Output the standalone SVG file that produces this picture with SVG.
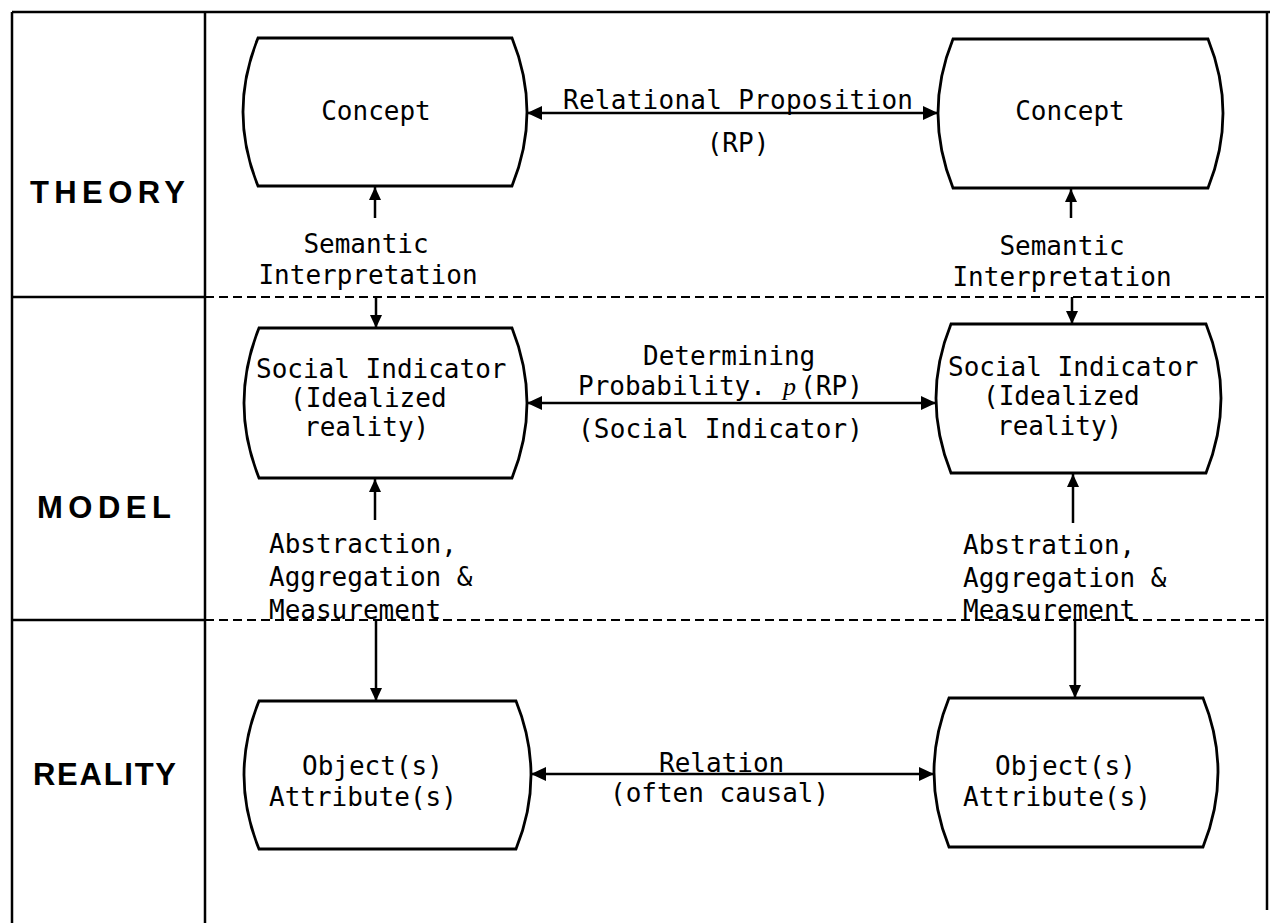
<svg xmlns="http://www.w3.org/2000/svg" width="1270" height="923" viewBox="0 0 1270 923">
<style>
.t{font-family:"DejaVu Sans Mono","Liberation Mono",monospace;font-size:26px;fill:#000}
.m{text-anchor:middle}
.lbl{font-family:"Liberation Sans",Arial,sans-serif;font-weight:bold;font-size:31px;fill:#000}
.frame{stroke:#000;stroke-width:2.5;fill:none}
.dash{stroke:#000;stroke-width:2;stroke-dasharray:9 5;fill:none}
.node{stroke:#000;stroke-width:2.8;fill:#fff}
.conn{stroke:#000;stroke-width:2.5;fill:none}
</style>
<defs>
<marker id="ah" markerUnits="userSpaceOnUse" markerWidth="16" markerHeight="14" refX="15" refY="7" orient="auto-start-reverse">
<path d="M0,0 L15,7 L0,14 z" fill="#000"/>
</marker>
<marker id="av" markerUnits="userSpaceOnUse" markerWidth="14" markerHeight="12" refX="13" refY="6" orient="auto">
<path d="M0,0 L13,6 L0,12 z" fill="#000"/>
</marker>
</defs>
<rect width="1270" height="923" fill="#fff"/>
<g id="frame">
<line class="frame" x1="12" y1="12" x2="1270" y2="12"/>
<line class="frame" x1="12" y1="12" x2="12" y2="923"/>
<line class="frame" x1="205" y1="12" x2="205" y2="923"/>
<line class="frame" x1="1267" y1="12" x2="1267" y2="910" stroke-width="1.5"/>
<line class="frame" x1="12" y1="297" x2="205" y2="297"/>
<line class="frame" x1="12" y1="620" x2="205" y2="620"/>
<line class="dash" x1="205" y1="297" x2="1267" y2="297"/>
<line class="dash" x1="205" y1="620" x2="1267" y2="620"/>
<text class="lbl" x="30" y="203" textLength="155" lengthAdjust="spacing">THEORY</text>
<text class="lbl" x="37" y="518" textLength="134" lengthAdjust="spacing">MODEL</text>
<text class="lbl" x="33" y="785" textLength="143" lengthAdjust="spacing">REALITY</text>
</g>
<g id="connectors">
<line class="conn" x1="527" y1="113" x2="938" y2="113" marker-start="url(#ah)" marker-end="url(#ah)"/>
<line class="conn" x1="527" y1="403" x2="936" y2="403" marker-start="url(#ah)" marker-end="url(#ah)"/>
<line class="conn" x1="531" y1="774" x2="934" y2="774" marker-start="url(#ah)" marker-end="url(#ah)"/>
<line class="conn" x1="375" y1="218" x2="375" y2="187" marker-end="url(#av)"/>
<line class="conn" x1="376" y1="297" x2="376" y2="328" marker-end="url(#av)"/>
<line class="conn" x1="1071" y1="218" x2="1071" y2="189" marker-end="url(#av)"/>
<line class="conn" x1="1072" y1="297" x2="1072" y2="324" marker-end="url(#av)"/>
<line class="conn" x1="375" y1="520" x2="375" y2="479" marker-end="url(#av)"/>
<line class="conn" x1="376" y1="620" x2="376" y2="701" marker-end="url(#av)"/>
<line class="conn" x1="1073" y1="523" x2="1073" y2="474" marker-end="url(#av)"/>
<line class="conn" x1="1075" y1="620" x2="1075" y2="698" marker-end="url(#av)"/>
<text class="t" x="563" y="109" textLength="350" lengthAdjust="spacing">Relational Proposition</text>
<text class="t m" x="738" y="152">(RP)</text>
<text class="t m" x="366" y="253">Semantic</text>
<text class="t m" x="368" y="284">Interpretation</text>
<text class="t m" x="1062" y="255">Semantic</text>
<text class="t m" x="1062" y="286">Interpretation</text>
<text class="t" x="643" y="365">Determining</text>
<text class="t" y="395"><tspan x="578">Probability.</tspan><tspan x="783" font-family="'Liberation Serif',serif" font-style="italic">p</tspan><tspan x="800" textLength="63" lengthAdjust="spacingAndGlyphs">(RP)</tspan></text>
<text class="t" x="578" y="438" textLength="285" lengthAdjust="spacing">(Social Indicator)</text>
<text class="t" x="269" y="553">Abstraction,</text>
<text class="t" x="269" y="586">Aggregation &amp;</text>
<text class="t" x="269" y="619">Measurement</text>
<text class="t" x="963" y="554">Abstration,</text>
<text class="t" x="963" y="587">Aggregation &amp;</text>
<text class="t" x="963" y="619">Measurement</text>
<text class="t" x="659" y="772">Relation</text>
<text class="t" x="610" y="802">(often causal)</text>
</g>
<g id="concept-left">
<path class="node" d="M258,38 L512,38 Q542,112 512,186 L258,186 Q228,112 258,38 z"/>
<text class="t m" x="376" y="120">Concept</text>
</g>
<g id="concept-right">
<path class="node" d="M953,39 L1208,39 Q1238,113 1208,188 L953,188 Q923,113 953,39 z"/>
<text class="t m" x="1070" y="120">Concept</text>
</g>
<g id="indicator-left">
<path class="node" d="M259,328 L512,328 Q542,403 512,478 L259,478 Q229,403 259,328 z"/>
<text class="t" x="256" y="378">Social Indicator</text>
<text class="t" x="290" y="407">(Idealized</text>
<text class="t" x="304" y="436">reality)</text>
</g>
<g id="indicator-right">
<path class="node" d="M951,324 L1206,324 Q1236,398 1206,473 L951,473 Q921,398 951,324 z"/>
<text class="t" x="948" y="376">Social Indicator</text>
<text class="t" x="983" y="405">(Idealized</text>
<text class="t" x="997" y="435">reality)</text>
</g>
<g id="object-left">
<path class="node" d="M259,701 L516,701 Q546,775 516,849 L259,849 Q229,775 259,701 z"/>
<text class="t" x="302" y="775">Object(s)</text>
<text class="t" x="269" y="806">Attribute(s)</text>
</g>
<g id="object-right">
<path class="node" d="M949,698 L1203,698 Q1233,772 1203,847 L949,847 Q919,772 949,698 z"/>
<text class="t" x="995" y="775">Object(s)</text>
<text class="t" x="963" y="806">Attribute(s)</text>
</g>
</svg>
